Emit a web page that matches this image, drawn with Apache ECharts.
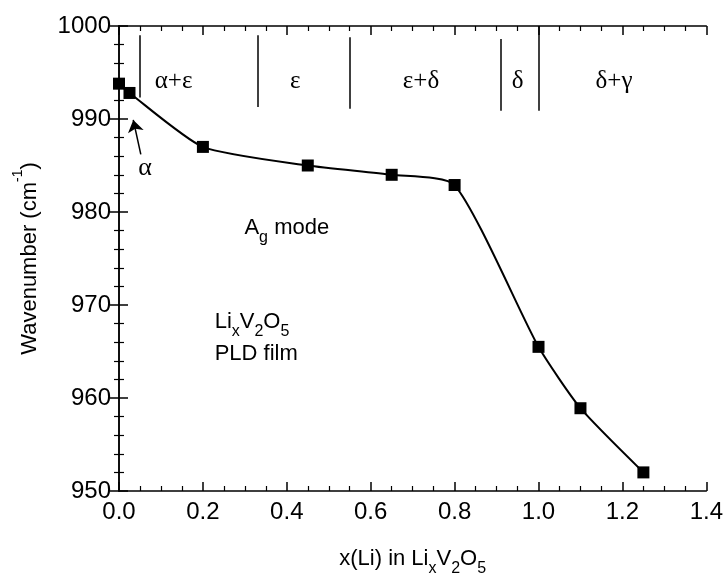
<!DOCTYPE html>
<html>
<head>
<meta charset="utf-8">
<title>Ag mode wavenumber</title>
<script src="https://cdn.jsdelivr.net/npm/echarts@6/dist/echarts.min.js"></script>
<style>
  html, body { margin: 0; padding: 0; background: #fff; }
  #chart { width: 726px; height: 582px; }
</style>
</head>
<body>
<div id="chart"></div>
<script>
// x(Li) and measured wavenumbers (cm-1)
var xLi = [0.0, 0.025, 0.2, 0.45, 0.65, 0.8, 1.0, 1.1, 1.25];
var wavenumber = [993.8, 992.8, 987.0, 985.0, 984.0, 982.9, 965.5, 958.9, 952.0];

// phase boundaries (x) and how far down each marker line runs
var phaseBounds = [0.05, 0.33, 0.55, 0.91, 1.0];
var phaseBoundTop = [999, 999, 998.8, 998.6, 1000];
var phaseBoundBottom = [992.3, 991.3, 991.1, 990.9, 990.9];

// phase names and where they sit
var phaseNames = ['α+ε', 'ε', 'ε+δ', 'δ', 'δ+γ'];
var phaseNameX = [0.13, 0.42, 0.72, 0.95, 1.18];
var phaseNameY = 994;

var xTicks = [0.0, 0.2, 0.4, 0.6, 0.8, 1.0, 1.2, 1.4];
var yTicks = [950, 960, 970, 980, 990, 1000];

var sans = "'Liberation Sans', Arial, sans-serif";
var serif = "'Liberation Serif', 'DejaVu Serif', serif";

var chart = echarts.init(document.getElementById('chart'));

var points = xLi.map(function (x, i) { return [x, wavenumber[i]]; });

var boundLines = phaseBounds.map(function (x, i) {
  return [{ coord: [x, phaseBoundTop[i]] }, { coord: [x, phaseBoundBottom[i]] }];
});

var phaseLabelData = phaseNames.map(function (n, i) {
  return { value: [phaseNameX[i], phaseNameY], name: n };
});

var axisStyle = { lineStyle: { color: '#000', width: 1.5 } };
var tickStyle = { inside: true, length: 9, lineStyle: { color: '#000', width: 1.5 } };

var option = {
  animation: false,
  backgroundColor: '#fff',
  grid: { left: 119, right: 18, top: 26, bottom: 81, containLabel: false },
  xAxis: [
    {
      type: 'value', min: xTicks[0], max: xTicks[xTicks.length - 1], interval: 0.2,
      position: 'bottom',
      axisLine: axisStyle,
      axisTick: tickStyle,
      minorTick: { show: true, splitNumber: 4, length: 5, lineStyle: { color: '#000', width: 1.2 } },
      splitLine: { show: false },
      axisLabel: {
        color: '#000', fontFamily: sans, fontSize: 24, margin: 9,
        formatter: function (v) { return v.toFixed(1); }
      },
      name: '{a|x(Li) in Li}{s|x}{a|V}{s|2}{a|O}{s|5}',
      nameLocation: 'middle', nameGap: 57,
      nameTextStyle: {
        rich: {
          a: { fontFamily: sans, fontSize: 22, color: '#000' },
          s: { fontFamily: sans, fontSize: 16, color: '#000', verticalAlign: 'bottom', padding: [0, 0, -7, 0] }
        }
      }
    },
    {
      type: 'value', min: xTicks[0], max: xTicks[xTicks.length - 1], interval: 0.2,
      position: 'top',
      axisLine: axisStyle,
      axisTick: tickStyle,
      minorTick: { show: true, splitNumber: 4, length: 5, lineStyle: { color: '#000', width: 1.2 } },
      splitLine: { show: false },
      axisLabel: { show: false }
    }
  ],
  yAxis: [
    {
      type: 'value', min: yTicks[0], max: yTicks[yTicks.length - 1], interval: 10,
      position: 'left',
      axisLine: axisStyle,
      axisTick: tickStyle,
      minorTick: { show: true, splitNumber: 5, length: 5, lineStyle: { color: '#000', width: 1.2 } },
      splitLine: { show: false },
      axisLabel: {
        color: '#000', fontFamily: sans, fontSize: 24, margin: 8,
        formatter: function (v) { return String(v); }
      },
      name: '{a|Wavenumber (cm}{s|-1}{a|)}',
      nameLocation: 'middle', nameGap: 78, nameRotate: 90,
      nameTextStyle: {
        rich: {
          a: { fontFamily: sans, fontSize: 22, color: '#000' },
          s: { fontFamily: sans, fontSize: 14, color: '#000', verticalAlign: 'top', padding: [-8, 0, 0, 0] }
        }
      }
    },
    {
      type: 'value', min: yTicks[0], max: yTicks[yTicks.length - 1], interval: 10,
      position: 'right',
      axisLine: axisStyle,
      axisTick: tickStyle,
      minorTick: { show: true, splitNumber: 5, length: 5, lineStyle: { color: '#000', width: 1.2 } },
      splitLine: { show: false },
      axisLabel: { show: false }
    }
  ],
  series: [
    {
      name: 'Ag mode',
      type: 'line',
      data: points,
      smooth: 0.2,
      symbol: 'rect',
      symbolSize: 12,
      itemStyle: { color: '#000' },
      lineStyle: { color: '#000', width: 2 },
      z: 5
    },
    {
      // phase boundary markers and the alpha arrow
      type: 'line',
      data: [],
      markLine: {
        silent: true,
        symbol: ['none', 'none'],
        label: { show: false },
        lineStyle: { color: '#000', width: 1.5, type: 'solid' },
        data: boundLines.concat([
          [
            { coord: [0.052, 986.2], symbol: 'none' },
            { coord: [0.034, 989.9], symbol: 'arrow', symbolSize: 12 }
          ]
        ])
      }
    },
    {
      // phase names
      type: 'scatter',
      data: phaseLabelData,
      symbolSize: 0,
      itemStyle: { opacity: 1 },
      label: {
        show: true, position: 'inside', color: '#000',
        fontFamily: serif, fontSize: 25,
        formatter: function (p) { return p.name; }
      }
    },
    {
      // annotations
      type: 'scatter',
      symbolSize: 0,
      itemStyle: { opacity: 1 },
      data: [
        { value: [0.062, 984.7], label: { formatter: 'α', fontFamily: serif, fontSize: 26 } },
        { value: [0.40, 978.3], label: { formatter: '{a|A}{s|g}{a| mode}' } },
        { value: [0.228, 968.2], label: { formatter: '{a|Li}{s|x}{a|V}{s|2}{a|O}{s|5}', align: 'left' } },
        { value: [0.228, 964.7], label: { formatter: '{a|PLD film}', align: 'left' } }
      ],
      label: {
        show: true, position: 'inside', color: '#000',
        rich: {
          a: { fontFamily: sans, fontSize: 22, color: '#000' },
          s: { fontFamily: sans, fontSize: 16, color: '#000', verticalAlign: 'bottom', padding: [0, 0, -7, 0] }
        }
      }
    }
  ]
};

chart.setOption(option);
</script>
</body>
</html>
